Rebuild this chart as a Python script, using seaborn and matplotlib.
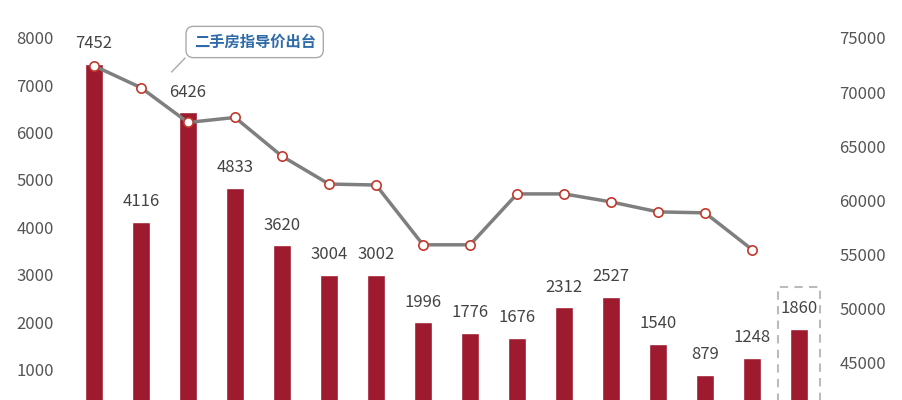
import matplotlib
matplotlib.use("Agg")
import matplotlib.pyplot as plt
import seaborn as sns
import pandas as pd
from matplotlib.patches import Rectangle

sns.set_theme(style="white")
plt.rcParams['font.family'] = ['Noto Sans CJK SC', 'DejaVu Sans']

months = [f"m{i}" for i in range(16)]
bars = [7452, 4116, 6426, 4833, 3620, 3004, 3002, 1996, 1776, 1676, 2312, 2527, 1540, 879, 1248, 1860]
price = [72430, 70410, 67200, 67660, 64080, 61510, 61420, 55900, 55900, 60600, 60600, 59860, 58940, 58850, 55460]

fig = plt.figure(figsize=(9.03, 4.0), dpi=100)
ax = fig.add_axes([0.078, -0.0425, 0.833, 1.031])
df = pd.DataFrame({"m": months, "v": bars})
sns.barplot(data=df, x="m", y="v", color="#9e1a2e", width=0.38, ax=ax, saturation=1)
ax.set_xlim(-0.5, 15.5)
ax.set_ylim(0, 8700)
ax.set_yticks(range(1000, 8001, 1000))
ax.set_xticks([])
ax.set_xlabel(""); ax.set_ylabel("")
for s in ax.spines.values():
    s.set_visible(False)
ax.tick_params(axis='y', labelsize=12, colors="#555555", length=0, pad=12)
for i, v in enumerate(bars):
    ax.text(i, v + 250, str(v), ha="center", va="bottom", fontsize=12, color="#444444")

ax2 = ax.twinx()
sns.lineplot(x=list(range(len(price))), y=price, ax=ax2, color="#7f7f7f", lw=2.5)
ax2.scatter(range(len(price)), price, s=45, facecolor="white", edgecolor="#c0392b", lw=1.2, zorder=5)
ax2.set_ylim(40000, 78080)
ax2.set_yticks(range(45000, 75001, 5000))
ax2.tick_params(axis='y', labelsize=12, colors="#555555", length=0, pad=12)
for s in ax2.spines.values():
    s.set_visible(False)
ax2.set_xlim(-0.5, 15.5)

ax.add_patch(Rectangle((14.55, 0), 0.9, 2750, fill=False, ls=(0, (4, 3)), lw=1.5, ec="#bbbbbb", clip_on=False))

fig.text(0.282, 0.895, "二手房指导价出台", ha="center", va="center", fontsize=11, color="#2e6aa8", weight="bold",
         bbox=dict(boxstyle="round,pad=0.5", fc="white", ec="#aaaaaa", lw=1))
fig.add_artist(plt.Line2D([0.205, 0.19], [0.855, 0.82], color="#aaaaaa", lw=1))
fig.savefig("out.png", dpi=100)
